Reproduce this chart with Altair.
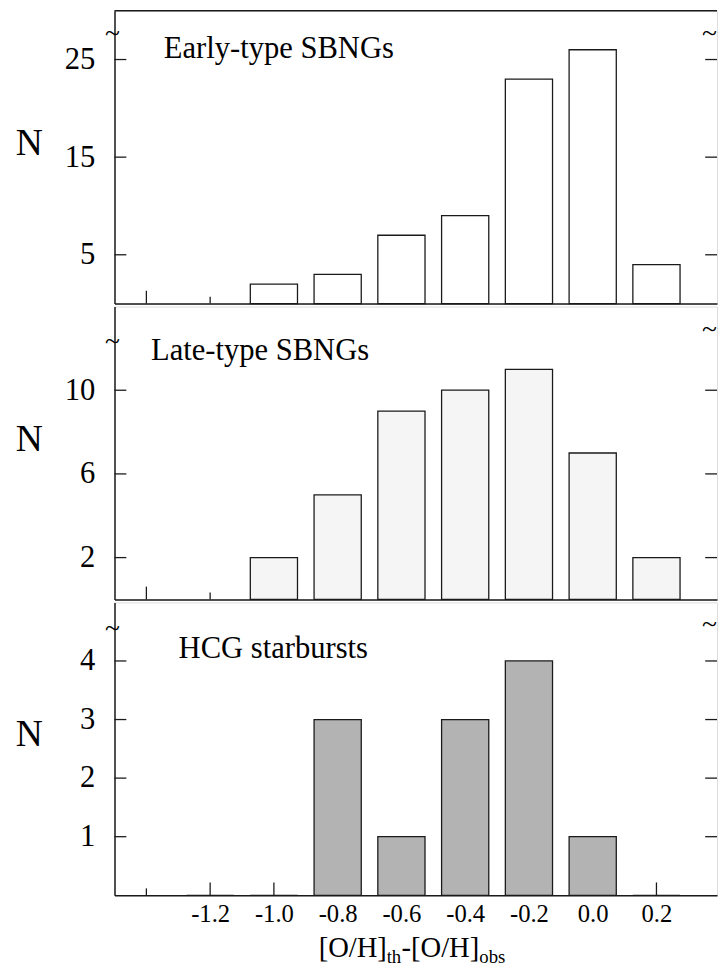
import altair as alt
import pandas as pd

# ---- data ----
bins_early = [-1.0, -0.8, -0.6, -0.4, -0.2, 0.0, 0.2]
counts_early = [2, 3, 7, 9, 23, 26, 4]
bins_late = [-1.0, -0.8, -0.6, -0.4, -0.2, 0.0, 0.2]
counts_late = [2, 5, 9, 10, 11, 7, 2]
bins_hcg = [-1.2, -1.0, -0.8, -0.6, -0.4, -0.2, 0.0, 0.2]
counts_hcg = [0, 0, 3, 1, 3, 4, 1, 0]

x_label_values = [-1.2, -1.0, -0.8, -0.6, -0.4, -0.2, 0.0, 0.2]
x_ticks_all = [-1.4, -1.2, -1.0, -0.8, -0.6, -0.4, -0.2, 0.0, 0.2]
y_ticks_early = [5, 15, 25]
y_ticks_late = [2, 6, 10]
y_ticks_hcg = [1, 2, 3, 4]
y_domain_early = [0, 30]
y_domain_late = [0, 14]
y_domain_hcg = [0, 5]
x_domain = [-1.5, 0.39]
panel_labels = ["Early-type SBNGs", "Late-type SBNGs", "HCG starbursts"]
# x ticks drawn short (minor-looking) in each panel
short_x_ticks_early = [-1.2]
short_x_ticks_late = [-1.2]
short_x_ticks_hcg = [-1.4]

W, H = 611, 297
FONT = "Liberation Serif"
INK = "#1a1a1a"
HALF = 0.074


def panel(bins, counts, fill, ydom, yticks, label, label_xy, tl_y, tr_y,
          short_ticks, bottom=False, top_border=False):
    xs = alt.Scale(domain=x_domain, nice=False, zero=False)
    ys = alt.Scale(domain=ydom, nice=False, zero=False)
    if bottom:
        xaxis = alt.Axis(values=x_label_values, title=None, grid=False,
                         ticks=False, tickSize=0, domain=True,
                         domainColor=INK, domainWidth=1.5,
                         labelFont=FONT, labelFontSize=25, labelColor="black",
                         labelPadding=7, labelFlush=False,
                         labelExpr="datum.value < 0 ? '-' + format(-datum.value, '.1f') : format(datum.value, '.1f')")
    else:
        xaxis = alt.Axis(title=None, grid=False, ticks=False, tickSize=0,
                         labels=False, domain=True, domainColor=INK,
                         domainWidth=1.5)
    yaxis = alt.Axis(values=yticks, title=None, grid=False, ticks=False,
                     tickSize=0, domain=True, domainColor=INK, domainWidth=1.5,
                     labelFont=FONT, labelFontSize=31, labelColor="black",
                     labelPadding=20, labelBaseline="middle")

    long_ticks = [t for t in x_ticks_all if t not in short_ticks]
    df_long = pd.DataFrame({"x": long_ticks})
    df_short = pd.DataFrame({"x": short_ticks})
    df_y = pd.DataFrame({"y": yticks})
    df_bars = pd.DataFrame({"x": bins, "n": counts})

    xt_long = alt.Chart(df_long).mark_rule(color=INK, strokeWidth=1.3).encode(
        x=alt.X("x:Q", scale=xs, axis=xaxis),
        y=alt.value(H - 13), y2=alt.value(H))
    xt_short = alt.Chart(df_short).mark_rule(color=INK, strokeWidth=1.3).encode(
        x=alt.X("x:Q", scale=xs, axis=xaxis),
        y=alt.value(H - 7), y2=alt.value(H))
    yt_left = alt.Chart(df_y).mark_rule(color=INK, strokeWidth=1.3).encode(
        y=alt.Y("y:Q", scale=ys, axis=yaxis),
        x=alt.value(0), x2=alt.value(12))
    yt_right = alt.Chart(df_y).mark_rule(color=INK, strokeWidth=1.3).encode(
        y=alt.Y("y:Q", scale=ys, axis=yaxis),
        x=alt.value(W - 12), x2=alt.value(W))

    bars = alt.Chart(df_bars).transform_calculate(
        x0=f"datum.x - {HALF}", x1=f"datum.x + {HALF}", base="0"
    ).mark_bar(fill=fill, stroke=INK, strokeWidth=1.3).encode(
        x=alt.X("x0:Q", scale=xs, axis=xaxis),
        x2="x1:Q",
        y=alt.Y("n:Q", scale=ys, axis=yaxis),
        y2="base:Q")

    df_label = pd.DataFrame({"t": [label]})
    lab = alt.Chart(df_label).mark_text(
        align="left", baseline="alphabetic", font=FONT, fontSize=31,
        color="black").encode(x=alt.value(label_xy[0]), y=alt.value(label_xy[1]),
                              text="t:N")
    df_n = pd.DataFrame({"t": ["N"]})
    nlab = alt.Chart(df_n).mark_text(
        align="center", baseline="middle", font=FONT, fontSize=38,
        color="black").encode(x=alt.value(-86.5), y=alt.value(135), text="t:N")
    df_tilde = pd.DataFrame({"t": ["~"]})
    tl = alt.Chart(df_tilde).mark_text(
        align="center", baseline="middle", font=FONT, fontSize=28,
        color="black").encode(x=alt.value(-2), y=alt.value(tl_y), text="t:N")
    tr = alt.Chart(df_tilde).mark_text(
        align="right", baseline="middle", font=FONT, fontSize=28,
        color="black").encode(x=alt.value(W), y=alt.value(tr_y), text="t:N")

    layers = [xt_long, xt_short, yt_left, yt_right, bars, lab, nlab, tl, tr]
    if top_border:
        layers.append(alt.Chart(df_n).mark_rule(color=INK, strokeWidth=1.5).encode(
            x=alt.value(0), x2=alt.value(W), y=alt.value(0)))
    if bottom:
        parts = [("[O/H]", 29, 207, H + 63), ("th", 19, 276, H + 69),
                 ("-[O/H]", 29, 291, H + 63), ("obs", 19, 370, H + 69)]
        for txt, fs, px, py in parts:
            dfp = pd.DataFrame({"t": [txt]})
            layers.append(alt.Chart(dfp).mark_text(
                align="left", baseline="alphabetic", font=FONT, fontSize=fs,
                color="black").encode(x=alt.value(px), y=alt.value(py), text="t:N"))
    return alt.layer(*layers).properties(width=W, height=H)


p1 = panel(bins_early, counts_early, "white", y_domain_early, y_ticks_early,
           panel_labels[0], (50, 48), 24, 24, short_x_ticks_early, top_border=True)
p2 = panel(bins_late, counts_late, "#f5f5f5", y_domain_late, y_ticks_late,
           panel_labels[1], (37, 54), 36, 24, short_x_ticks_late)
p3 = panel(bins_hcg, counts_hcg, "#b3b3b3", y_domain_hcg, y_ticks_hcg,
           panel_labels[2], (65, 56), 27, 23, short_x_ticks_hcg, bottom=True)

chart = alt.vconcat(p1, p2, p3, spacing=0).properties(
    padding={"left": 7, "top": -6, "right": 0, "bottom": -7}
).configure_view(stroke=None).configure(background="white")

chart.save("out.html", embed_options={"renderer": "svg", "actions": False})
